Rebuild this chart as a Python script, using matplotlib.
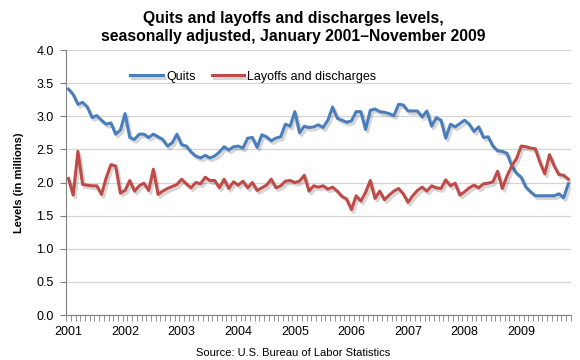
import matplotlib
matplotlib.use("Agg")
import matplotlib.pyplot as plt
import matplotlib.patheffects as pe
import numpy as np

plt.rcParams['font.family'] = ['Liberation Sans', 'DejaVu Sans']

# monthly levels, Jan 2001 - Nov 2009 (millions)
quits = [
    3.41, 3.33, 3.18, 3.21, 3.14, 2.98, 3.01, 2.94, 2.88, 2.90, 2.73, 2.79,  # 2001
    3.04, 2.68, 2.65, 2.73, 2.73, 2.68, 2.73, 2.69, 2.65, 2.55, 2.60, 2.73,  # 2002
    2.57, 2.55, 2.46, 2.40, 2.37, 2.41, 2.37, 2.40, 2.46, 2.54, 2.49, 2.54,  # 2003
    2.55, 2.52, 2.67, 2.68, 2.53, 2.72, 2.69, 2.63, 2.67, 2.69, 2.88, 2.85,  # 2004
    3.07, 2.75, 2.85, 2.83, 2.84, 2.87, 2.83, 2.94, 3.14, 2.97, 2.94, 2.91,  # 2005
    2.93, 3.07, 3.07, 2.80, 3.09, 3.11, 3.07, 3.06, 3.04, 3.01, 3.18, 3.17,  # 2006
    3.08, 3.08, 3.08, 2.99, 3.08, 2.85, 2.98, 2.94, 2.67, 2.88, 2.84, 2.89,  # 2007
    2.94, 2.88, 2.77, 2.84, 2.68, 2.69, 2.55, 2.48, 2.47, 2.44, 2.25, 2.14,  # 2008
    2.08, 1.93, 1.86, 1.80, 1.80, 1.80, 1.80, 1.80, 1.83, 1.77, 1.98,        # 2009
]
layoffs = [
    2.06, 1.81, 2.47, 1.97, 1.96, 1.95, 1.95, 1.82, 2.07, 2.27, 2.25, 1.84,  # 2001
    1.88, 2.03, 1.87, 1.95, 1.99, 1.88, 2.20, 1.82, 1.87, 1.91, 1.94, 1.97,  # 2002
    2.05, 1.98, 1.92, 2.00, 1.98, 2.08, 2.03, 2.03, 1.92, 2.05, 1.91, 2.01,  # 2003
    1.96, 2.02, 1.92, 2.00, 1.88, 1.92, 1.96, 2.05, 1.92, 1.95, 2.02, 2.03,  # 2004
    2.00, 2.02, 2.11, 1.87, 1.95, 1.93, 1.95, 1.90, 1.93, 1.87, 1.79, 1.75,  # 2005
    1.59, 1.80, 1.72, 1.85, 2.03, 1.76, 1.87, 1.74, 1.81, 1.87, 1.91, 1.83,  # 2006
    1.70, 1.80, 1.88, 1.93, 1.87, 1.95, 1.92, 1.91, 2.04, 1.95, 1.99, 1.81,  # 2007
    1.86, 1.92, 1.96, 1.92, 1.98, 1.99, 2.01, 2.17, 1.91, 2.10, 2.25, 2.36,  # 2008
    2.55, 2.54, 2.52, 2.51, 2.30, 2.13, 2.42, 2.25, 2.12, 2.11, 2.05,        # 2009
]
years = ['2001', '2002', '2003', '2004', '2005', '2006', '2007', '2008', '2009']

months = np.arange(len(quits))

fig = plt.figure(figsize=(5.8, 3.6), dpi=100)
ax = fig.add_axes([0.114, 0.125, 0.870, 0.736])

# soft drop shadow like the original spreadsheet chart
shadow = [pe.SimpleLineShadow(offset=(1.5, -2), alpha=0.16, shadow_color='black'), pe.Normal()]
ax.plot(months, quits, color='#4A7EBB', lw=2.2, label='Quits', path_effects=shadow, zorder=3)
ax.plot(months, layoffs, color='#BE4B48', lw=2.2, label='Layoffs and discharges',
        path_effects=shadow, zorder=3)

ax.set_xlim(-0.5, len(quits) - 0.5)
ax.set_ylim(0, 4.0)
ax.set_yticks(np.arange(0, 4.01, 0.5))
ax.set_yticklabels(['%.1f' % v for v in np.arange(0, 4.01, 0.5)])
ax.yaxis.grid(True, color='#D4D4D4', lw=0.9)
ax.set_axisbelow(True)

ax.set_xticks(np.arange(0, len(quits), 12))
ax.set_xticklabels(years)
ax.set_xticks(np.arange(-0.5, len(quits), 1), minor=True)
ax.tick_params(axis='x', which='major', length=0, pad=8, labelsize=9)
ax.tick_params(axis='x', which='minor', length=4, color='#808080', direction='out')
ax.tick_params(axis='y', length=4, color='#808080', labelsize=9, pad=5)

for s in ['top', 'right']:
    ax.spines[s].set_visible(False)
for s in ['left', 'bottom']:
    ax.spines[s].set_color('#808080')

ax.set_ylabel('Levels (in millions)', fontsize=8, fontweight='bold', labelpad=9)

ax.legend(loc='upper left', bbox_to_anchor=(0.105, 0.965), ncol=2, frameon=False,
          fontsize=9, handlelength=2.6, columnspacing=1.3, handletextpad=0.25)

fig.suptitle('Quits and layoffs and discharges levels,\nseasonally adjusted, January 2001\u2013November 2009',
             x=0.505, y=0.97, fontsize=11.3, fontweight='bold', linespacing=1.3)
fig.text(0.505, 0.01, 'Source: U.S. Bureau of Labor Statistics', ha='center', fontsize=8)

fig.savefig('out.png', dpi=100)
